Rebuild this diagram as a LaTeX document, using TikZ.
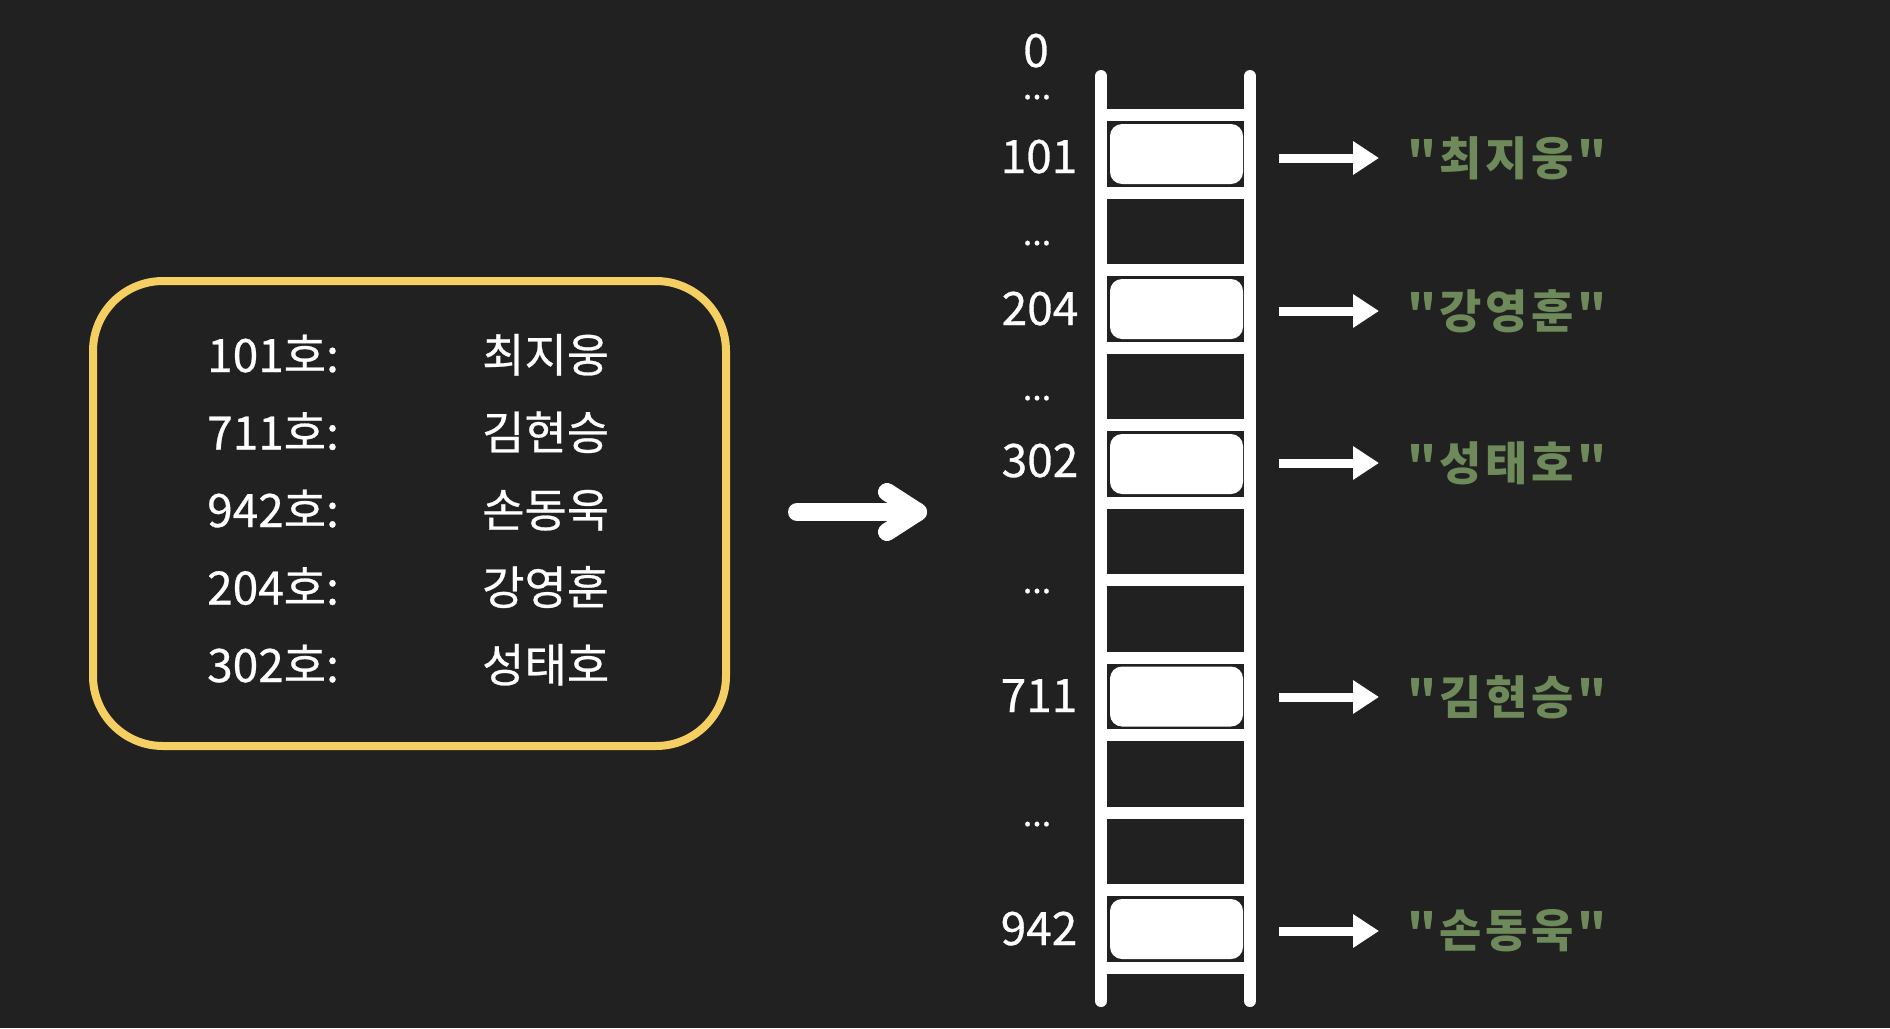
\documentclass[tikz,border=0pt]{standalone}
\usepackage{fontspec}
\setmainfont{Noto Sans CJK KR}
\newfontfamily\whfont[FakeBold=0.6]{Noto Sans CJK KR}
\newfontfamily\grnfont[LetterSpace=8]{Noto Sans CJK KR}
\usetikzlibrary{arrows.meta,calc}
\definecolor{bgc}{HTML}{212121}
\definecolor{ylw}{HTML}{F6CF62}
\definecolor{grn}{HTML}{6E8A5B}
\begin{document}
\begin{tikzpicture}[x=1pt,y=-1pt,
  rail/.style={white,line width=12pt,line cap=round},
  rung/.style={white,line width=12pt},
  valbox/.style={fill=white,rounded corners=12pt,minimum width=133pt,minimum height=60pt,inner sep=0pt},
  idx/.style={white,anchor=base,font=\whfont\fontsize{46pt}{50pt}\selectfont,inner sep=0pt},
  dots/.style={white,anchor=base,font=\whfont\fontsize{34pt}{36pt}\selectfont,inner sep=0pt},
  tkey/.style={white,anchor=base west,font=\whfont\fontsize{46pt}{50pt}\selectfont,inner sep=0pt},
  tval/.style={white,anchor=base west,font=\whfont\fontsize{46pt}{50pt}\selectfont,inner sep=0pt},
  glab/.style={grn,anchor=west,font=\grnfont\bfseries\fontsize{46pt}{50pt}\selectfont,inner sep=0pt},
  rarr/.style={white,line width=9pt,-{Triangle[length=26pt,width=32pt]},shorten <=36pt,shorten >=28pt},
  big/.style={white,line width=18pt,line cap=round,line join=round}]
\fill[bgc] (0,0) rectangle (1890,1028);
\useasboundingbox (0,0) rectangle (1890,1028);

% left table
\node[draw=ylw,line width=8pt,rounded corners=70pt,minimum width=633pt,minimum height=465pt,inner sep=0pt] (table) at (409.5,513.5) {};
\node[tkey] (k1) at (207,372) {101호:};
\node[tkey] (k2) at (207,449.5) {711호:};
\node[tkey] (k3) at (207,527) {942호:};
\node[tkey] (k4) at (207,604.5) {204호:};
\node[tkey] (k5) at (207,682) {302호:};
\node[tval] (n1) at (482,372) {최지웅};
\node[tval] (n2) at (482,449.5) {김현승};
\node[tval] (n3) at (482,527) {손동욱};
\node[tval] (n4) at (482,604.5) {강영훈};
\node[tval] (n5) at (482,682) {성태호};

% big arrow
\coordinate (bigS) at (797,512);
\coordinate (bigE) at (918,512);
\draw[big] (bigS) -- (bigE);
\draw[big] ($(bigE)+(-31,-20)$) -- (bigE) -- ($(bigE)+(-31,20)$);

% ladder
\foreach \y in {115,193,270,348,425,503,580,658,735,813,890,968}
  \draw[rung] (1101,\y) -- (1250,\y);
\coordinate (lt) at (1101,76);
\coordinate (lb) at (1101,1001);
\coordinate (rt) at (1250,76);
\coordinate (rb) at (1250,1001);
\draw[rail] (lt) -- (lb);
\draw[rail] (rt) -- (rb);

\node[valbox] (v1) at (1176.5,154) {};
\node[valbox] (v2) at (1176.5,309) {};
\node[valbox] (v3) at (1176.5,464) {};
\node[valbox] (v4) at (1176.5,696.5) {};
\node[valbox] (v5) at (1176.5,929) {};

% index labels
\node[idx] (i0) at (1036,67) {0};
\node[dots] (d0) at (1037,99) {...};
\node[idx] (i1) at (1039,173) {101};
\node[dots] (d1) at (1037,245) {...};
\node[idx] (i2) at (1040,325) {204};
\node[dots] (d2) at (1037,400) {...};
\node[idx] (i3) at (1040,477) {302};
\node[dots] (d3) at (1037,593) {...};
\node[idx] (i4) at (1039,712) {711};
\node[dots] (d4) at (1037,826) {...};
\node[idx] (i5) at (1039,945) {942};

% value labels
\node[glab] (g1) at (1407,158) {"최지웅"};
\node[glab] (g2) at (1407,311) {"강영훈"};
\node[glab] (g3) at (1407,463) {"성태호"};
\node[glab] (g4) at (1407,697) {"김현승"};
\node[glab] (g5) at (1407,931) {"손동욱"};

\draw[rarr] (g1.west -| v1.east) -- (g1.west);
\draw[rarr] (g2.west -| v2.east) -- (g2.west);
\draw[rarr] (g3.west -| v3.east) -- (g3.west);
\draw[rarr] (g4.west -| v4.east) -- (g4.west);
\draw[rarr] (g5.west -| v5.east) -- (g5.west);
\end{tikzpicture}
\end{document}
